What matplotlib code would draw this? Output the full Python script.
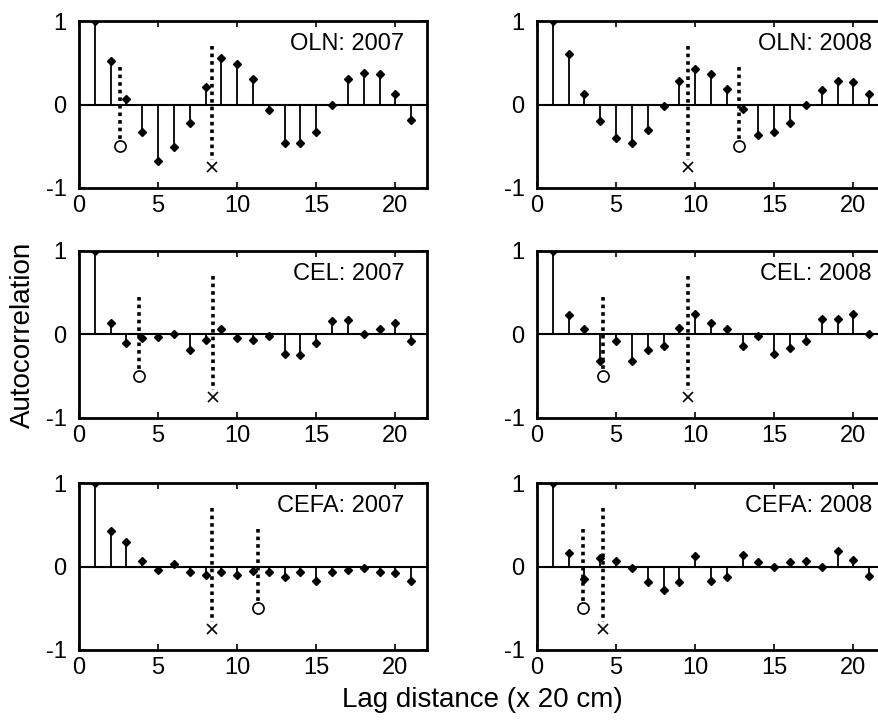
import numpy as np
import matplotlib
matplotlib.use('Agg')
import matplotlib.pyplot as plt

plt.rcParams['font.family'] = ['Liberation Sans', 'DejaVu Sans']

lags = np.arange(1, 22)

oln_2007 = [1.0, 0.52, 0.06, -0.33, -0.68, -0.51, -0.22, 0.21, 0.56, 0.49, 0.30,
            -0.07, -0.46, -0.46, -0.33, 0.0, 0.30, 0.38, 0.37, 0.12, -0.18]
oln_2008 = [1.0, 0.60, 0.12, -0.20, -0.40, -0.46, -0.31, -0.02, 0.28, 0.42, 0.37,
            0.19, -0.05, -0.36, -0.33, -0.22, 0.0, 0.17, 0.28, 0.27, 0.12]
cel_2007 = [1.0, 0.14, -0.10, -0.04, -0.03, 0.0, -0.19, -0.07, 0.07, -0.04, -0.06,
            -0.02, -0.23, -0.25, -0.10, 0.16, 0.17, 0.0, 0.06, 0.14, -0.08]
cel_2008 = [1.0, 0.23, 0.06, -0.32, -0.08, -0.32, -0.19, -0.14, 0.08, 0.25, 0.14,
            0.06, -0.14, -0.02, -0.23, -0.16, -0.08, 0.19, 0.19, 0.24, 0.0]
cefa_2007 = [1.0, 0.42, 0.29, 0.06, -0.04, 0.03, -0.06, -0.10, -0.07, -0.10, -0.05,
             -0.06, -0.12, -0.07, -0.17, -0.06, -0.04, -0.02, -0.06, -0.08, -0.17]
cefa_2008 = [1.0, 0.16, -0.15, 0.10, 0.06, -0.02, -0.19, -0.28, -0.19, 0.12, -0.17,
             -0.12, 0.14, 0.05, 0.0, 0.05, 0.06, 0.0, 0.19, 0.08, -0.11]

titles = ['OLN: 2007', 'OLN: 2008', 'CEL: 2007', 'CEL: 2008', 'CEFA: 2007', 'CEFA: 2008']
series = [oln_2007, oln_2008, cel_2007, cel_2008, cefa_2007, cefa_2008]
# lag marked with open circle and with cross in each panel
circle_lag = [2.6, 12.75, 3.8, 4.2, 11.3, 2.9]
cross_lag = [8.4, 9.55, 8.45, 9.55, 8.4, 4.2]

fig = plt.figure(figsize=(8.79, 7.25), dpi=100)

col_left = [79 / 879, 537 / 879]
ax_w = 348 / 879
row_bottom = [1 - 188 / 725, 1 - 418 / 725, 1 - 650 / 725]
ax_h = 167 / 725
text_right = [0.935, 0.962]

for i, (vals, title) in enumerate(zip(series, titles)):
    r, c = divmod(i, 2)
    ax = fig.add_axes([col_left[c], row_bottom[r], ax_w, ax_h])
    ax.axhline(0, color='k', lw=1.5, zorder=2)
    ax.vlines(lags, 0, vals, color='k', lw=1.3, zorder=2)
    ax.plot(lags, vals, 'kD', ms=4.5, zorder=3)

    ax.plot([circle_lag[i], circle_lag[i]], [0.45, -0.44], color='k', lw=2.6,
            dashes=(1, 1.1), dash_capstyle='butt', zorder=4)
    ax.plot(circle_lag[i], -0.5, 'o', mfc='none', mec='k', ms=8, mew=1.2, zorder=4)
    ax.plot([cross_lag[i], cross_lag[i]], [0.7, -0.67], color='k', lw=2.6,
            dashes=(1, 1.1), dash_capstyle='butt', zorder=4)
    ax.plot(cross_lag[i], -0.75, 'x', color='k', ms=7, mew=1.2, zorder=4)

    ax.set_xlim(0, 22)
    ax.set_ylim(-1, 1)
    ax.set_xticks([0, 5, 10, 15, 20])
    ax.set_yticks([-1, 0, 1])
    ax.set_yticklabels(['-1', '0', '1'])
    ax.tick_params(direction='in', length=4, width=1.2, top=True, right=True,
                   labelsize=17, pad=5)
    ax.tick_params(axis='y', pad=9)
    for sp in ax.spines.values():
        sp.set_linewidth(2)
    ax.text(text_right[c], 0.86, title, transform=ax.transAxes, ha='right',
            va='center', fontsize=17)

fig.text(0.026, 1 - 335 / 725, 'Autocorrelation', rotation=90,
         ha='center', va='center', fontsize=20)
fig.text(482 / 879, 1 - 700 / 725, 'Lag distance (x 20 cm)', ha='center',
         va='center', fontsize=20)

fig.savefig('out.png', dpi=100)
